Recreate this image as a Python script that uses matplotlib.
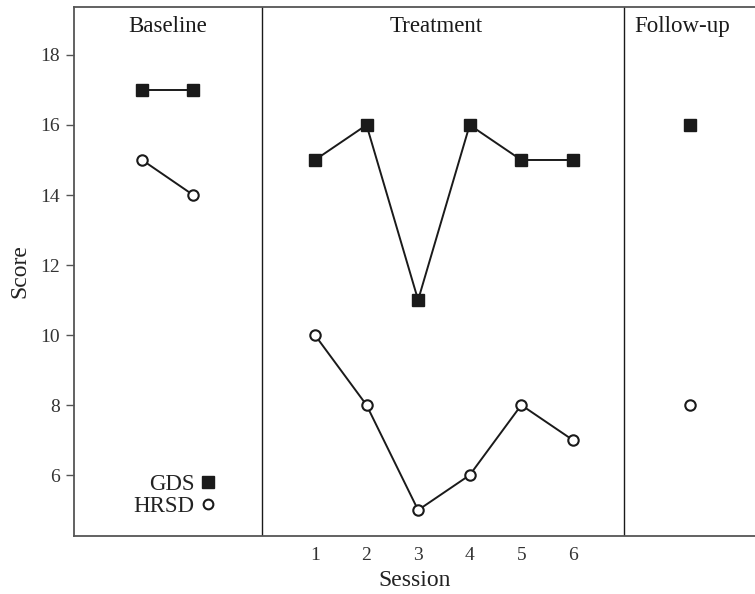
import matplotlib
matplotlib.use("Agg")
import matplotlib.pyplot as plt
from matplotlib.lines import Line2D

plt.rcParams['font.family'] = ['Liberation Serif', 'DejaVu Serif']

# Data
baseline_x = [-2.35, -1.36]
baseline_gds = [17, 17]
baseline_hrsd = [15, 14]

sessions = [1, 2, 3, 4, 5, 6]
treat_gds = [15, 16, 11, 16, 15, 15]
treat_hrsd = [10, 8, 5, 6, 8, 7]

follow_x = [8.27]
follow_gds = [16]
follow_hrsd = [8]

phase_labels = ["Baseline", "Treatment", "Follow-up"]
phase_label_x = [-1.85, 3.35, 8.12]
phase_bounds = [-0.03, 6.99]
yticks = [6, 8, 10, 12, 14, 16, 18]

fig = plt.figure(figsize=(7.55, 5.94), dpi=100)
ax = fig.add_axes([74/755, 1 - 536/594, 1 - 74/755, (536 - 7)/594])

ink = '#1a1a1a'
ms = 8
sq = dict(marker='s', markersize=ms, color=ink, markerfacecolor=ink, markeredgecolor=ink, lw=1.4)
ci = dict(marker='o', markersize=ms - 0.5, color=ink, markerfacecolor='white', markeredgecolor=ink, markeredgewidth=1.5, lw=1.4)

ax.plot(baseline_x, baseline_gds, **sq)
ax.plot(baseline_x, baseline_hrsd, **ci)
ax.plot(sessions, treat_gds, **sq)
ax.plot(sessions, treat_hrsd, **ci)
ax.plot(follow_x, follow_gds, ls='none', **{k: v for k, v in sq.items() if k != 'lw'})
ax.plot(follow_x, follow_hrsd, ls='none', **{k: v for k, v in ci.items() if k != 'lw'})

for b in phase_bounds:
    ax.axvline(b, color=ink, lw=1.0)

for lab, xx in zip(phase_labels, phase_label_x):
    ax.text(xx, 18.8, lab, ha='center', va='center', fontsize=16.5, color=ink)

ax.set_xlim(-3.67, 9.53)
ax.set_ylim(4.26, 19.37)
ax.set_yticks(yticks)
ax.set_xticks(sessions)
ax.tick_params(axis='y', length=6, width=1, colors='#555555', labelcolor='#333333', labelsize=14, pad=4)
ax.tick_params(axis='x', length=0, labelcolor='#333333', labelsize=14, pad=8)
for s in ['left', 'bottom', 'top']:
    ax.spines[s].set_color('#555555')
    ax.spines[s].set_linewidth(1.3)
ax.spines['right'].set_visible(False)

ax.set_xlabel("Session", fontsize=17, color='#222222', labelpad=4)
ax.set_ylabel("Score", fontsize=17, color='#222222', labelpad=7)

handles = [Line2D([], [], ls='none', marker='s', markersize=ms, color=ink),
           Line2D([], [], ls='none', marker='o', markersize=ms - 1, markerfacecolor='white',
                  markeredgecolor=ink, markeredgewidth=1.5)]
leg = ax.legend(handles, ["GDS", "HRSD"], loc='center right', bbox_to_anchor=(0.2203, 0.076),
                frameon=False, markerfirst=False, handlelength=0.6, handletextpad=0.3,
                labelspacing=0.05, fontsize=16.5, borderaxespad=0)
for t in leg.get_texts():
    t.set_color('#222222')

fig.savefig("out.png", dpi=100)
